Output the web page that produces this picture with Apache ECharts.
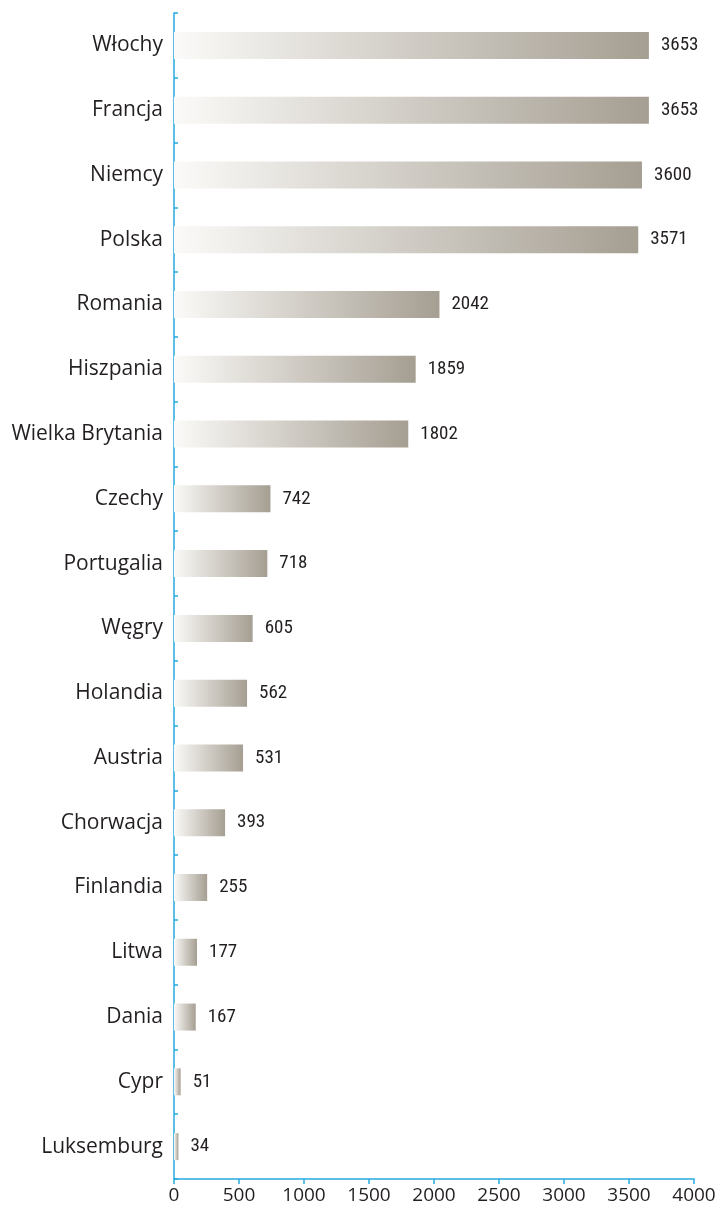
<!DOCTYPE html>
<html>
<head>
<meta charset="utf-8">
<script src="https://cdn.jsdelivr.net/npm/echarts@6/dist/echarts.min.js"></script>
<style>
  html, body { margin: 0; padding: 0; background: #fff; }
  #chart { width: 727px; height: 1213px; }
</style>
</head>
<body>
<div id="chart"></div>
<script>
// kraje od góry do dołu
const countries = [
  'Włochy', 'Francja', 'Niemcy', 'Polska', 'Romania', 'Hiszpania',
  'Wielka Brytania', 'Czechy', 'Portugalia', 'Węgry', 'Holandia', 'Austria',
  'Chorwacja', 'Finlandia', 'Litwa', 'Dania', 'Cypr', 'Luksemburg'
];
const values = [3653, 3653, 3600, 3571, 2042, 1859, 1802, 742, 718, 605, 562, 531, 393, 255, 177, 167, 51, 34];
const xTicks = [0, 500, 1000, 1500, 2000, 2500, 3000, 3500, 4000];

const axisBlue = '#27aae1';
const textColor = '#231f20';

const barGradient = new echarts.graphic.LinearGradient(0, 0, 1, 0, [
  { offset: 0, color: '#fbfaf8' },
  { offset: 1, color: '#a59e92' }
]);

const chart = echarts.init(document.getElementById('chart'));

chart.setOption({
  animation: false,
  grid: { left: 174, right: 33, top: 13, bottom: 34, containLabel: false },
  xAxis: {
    type: 'value',
    min: xTicks[0],
    max: xTicks[xTicks.length - 1],
    interval: 500,
    axisLine: { show: true, lineStyle: { color: axisBlue, width: 1.5 } },
    axisTick: { show: true, length: 5, lineStyle: { color: axisBlue, width: 1.5 } },
    splitLine: { show: false },
    axisLabel: {
      color: textColor,
      fontFamily: 'Open Sans',
      fontSize: 19,
      margin: 7,
      formatter: (v) => String(v)
    }
  },
  yAxis: {
    type: 'category',
    inverse: true,
    data: countries,
    axisLine: { show: true, lineStyle: { color: axisBlue, width: 1.5 } },
    axisTick: { show: true, inside: true, length: 4, lineStyle: { color: axisBlue, width: 1.5 } },
    axisLabel: {
      color: textColor,
      fontFamily: 'Open Sans',
      fontSize: 21,
      margin: 11
    }
  },
  series: [{
    type: 'bar',
    data: values,
    barWidth: 27,
    itemStyle: { color: barGradient },
    label: {
      show: true,
      position: 'right',
      distance: 12,
      color: textColor,
      fontFamily: 'Roboto Condensed, Roboto',
      fontSize: 19
    }
  }]
});
</script>
</body>
</html>
